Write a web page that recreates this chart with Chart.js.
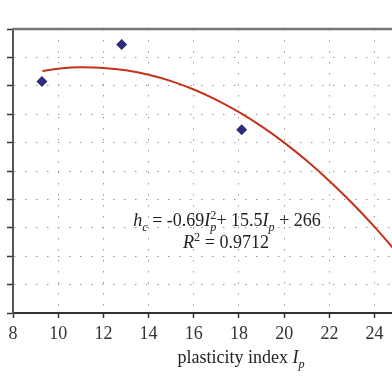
<!DOCTYPE html>
<html>
<head>
<meta charset="utf-8">
<script src="https://cdn.jsdelivr.net/npm/chart.js@4.4.1/dist/chart.umd.min.js"></script>
<style>
  html, body { margin: 0; padding: 0; background: #fff; }
  #wrap { width: 392px; height: 392px; }
</style>
</head>
<body>
<div id="wrap"><canvas id="myChart"></canvas></div>
<script>
// measured samples (plasticity index vs hc)
var ipValues = [9.28, 12.81, 18.12];
var hcValues = [343, 369, 309];

// fitted curve
var fitIp = [9.3, 10, 11, 12, 13, 14, 15, 16, 17, 18, 19, 20, 21, 22, 23, 24, 25];
var fitHc = [350.5, 352, 353, 352.6, 350.9, 347.8, 343.3, 337.4, 330.1, 321.4, 311.4, 300, 287.2, 273, 257.5, 240.6, 222.3];

var xTicks = [8, 10, 12, 14, 16, 18, 20, 22, 24];
var yTicks = [180, 200, 220, 240, 260, 280, 300, 320, 340, 360, 380];

var serif = "'Liberation Serif', 'DejaVu Serif', serif";

function toPoints(xs, ys) {
    var pts = [];
    for (var i = 0; i < xs.length; i++) {
        pts.push({x: xs[i], y: ys[i]});
    }
    return pts;
}

// draws a run of text pieces, some italic / sub / sup
function drawRich(ctx, parts, cx, baseline, size) {
    function fontFor(p) {
        var s = (p.sub || p.sup) ? size * 0.68 : size;
        return (p.it ? 'italic ' : '') + s + 'px ' + serif;
    }
    var total = 0;
    var widths = [];
    for (var i = 0; i < parts.length; i++) {
        ctx.font = fontFor(parts[i]);
        var w = ctx.measureText(parts[i].t).width;
        widths.push(w);
        if (!parts[i].stack) total += w;
    }
    var x = cx - total / 2;
    var prevX = x;
    ctx.textBaseline = 'alphabetic';
    ctx.textAlign = 'left';
    for (var j = 0; j < parts.length; j++) {
        var p = parts[j];
        ctx.font = fontFor(p);
        var y = baseline;
        if (p.sub) y += size * 0.25;
        if (p.sup) y -= size * 0.4;
        var drawX = p.stack ? prevX : x;
        ctx.fillText(p.t, drawX, y);
        if (!p.stack) {
            prevX = x;
            x += widths[j];
        }
    }
}

var textPlugin = {
    id: 'textPlugin',
    afterDraw: function (chart) {
        var ctx = chart.ctx;
        var area = chart.chartArea;
        ctx.save();
        // top frame line
        ctx.strokeStyle = '#777';
        ctx.lineWidth = 2.5;
        ctx.beginPath();
        ctx.moveTo(area.left - 1, area.top);
        ctx.lineTo(area.right, area.top);
        ctx.stroke();

        ctx.fillStyle = '#222';
        drawRich(ctx, [
            {t: 'h', it: true}, {t: 'c', it: true, sub: true},
            {t: ' = -0.69'}, {t: 'I', it: true}, {t: 'p', it: true, sub: true},
            {t: '2', sup: true, stack: true},
            {t: '+ 15.5'}, {t: 'I', it: true}, {t: 'p', it: true, sub: true},
            {t: ' + 266'}
        ], 227, 226, 18);
        drawRich(ctx, [
            {t: 'R', it: true}, {t: '2', sup: true}, {t: ' = 0.9712'}
        ], 226, 248, 18);
        drawRich(ctx, [
            {t: 'plasticity index '}, {t: 'I', it: true}, {t: 'p', it: true, sub: true}
        ], 241, 363, 18);
        ctx.restore();
    }
};

var ctx = document.getElementById('myChart').getContext('2d');
var myChart = new Chart(ctx, {
    type: 'scatter',
    data: {
        datasets: [{
            label: 'fit',
            data: toPoints(fitIp, fitHc),
            showLine: true,
            borderColor: '#c3321b',
            borderWidth: 2,
            pointRadius: 0,
            cubicInterpolationMode: 'monotone',
            order: 2
        }, {
            label: 'samples',
            data: toPoints(ipValues, hcValues),
            pointStyle: 'rectRot',
            pointRadius: 5.5,
            backgroundColor: '#2d2a7f',
            borderColor: '#2d2a7f',
            borderWidth: 0,
            order: 1
        }]
    },
    options: {
        responsive: true,
        maintainAspectRatio: false,
        animation: false,
        layout: {autoPadding: false, padding: {top: 29, left: 0, right: 0, bottom: 0}},
        plugins: {
            legend: {display: false},
            tooltip: {enabled: false}
        },
        scales: {
            x: {
                type: 'linear',
                min: 8,
                max: 24.77,
                afterBuildTicks: function (scale) {
                    scale.ticks = xTicks.map(function (v) { return {value: v}; });
                },
                afterFit: function (scale) {
                    scale.height = 79;
                    scale.paddingLeft = 0;
                    scale.paddingRight = 0;
                },
                ticks: {
                    font: {family: serif, size: 18},
                    color: '#333',
                    padding: 5,
                    maxRotation: 0
                },
                grid: {
                    color: '#999',
                    lineWidth: 1,
                    tickLength: 5,
                    tickColor: '#333',
                    tickWidth: 1.5,
                    tickBorderDash: []
                },
                border: {color: '#333', width: 2, dash: [1.5, 9.5]}
            },
            y: {
                type: 'linear',
                min: 180,
                max: 380,
                afterBuildTicks: function (scale) {
                    scale.ticks = yTicks.map(function (v) { return {value: v}; });
                },
                afterFit: function (scale) { scale.width = 13; },
                ticks: {display: false},
                grid: {
                    color: '#999',
                    lineWidth: 1,
                    tickLength: 6,
                    tickColor: '#333',
                    tickWidth: 1.5,
                    tickBorderDash: []
                },
                border: {color: '#555', width: 2, dash: [1.5, 9.5]}
            }
        }
    },
    plugins: [textPlugin]
});
</script>
</body>
</html>
